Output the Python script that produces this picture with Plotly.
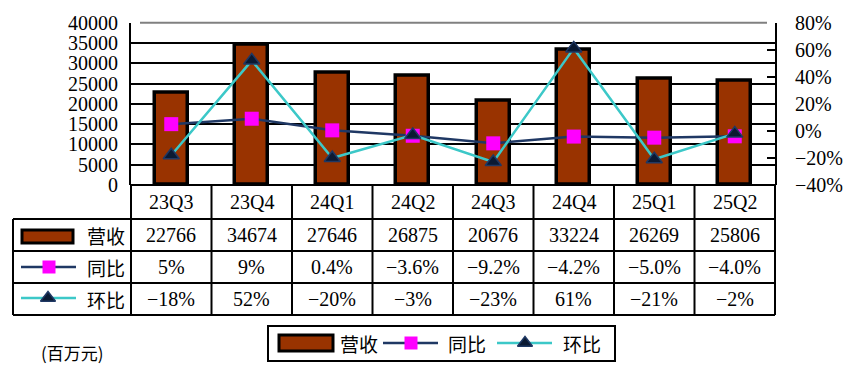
import plotly.graph_objects as go

categories = ["23Q3", "23Q4", "24Q1", "24Q2", "24Q3", "24Q4", "25Q1", "25Q2"]
revenue = [22766, 34674, 27646, 26875, 20676, 33224, 26269, 25806]
yoy = [0.05, 0.09, 0.004, -0.036, -0.092, -0.042, -0.050, -0.040]
qoq = [-0.18, 0.52, -0.20, -0.03, -0.23, 0.61, -0.21, -0.02]
yoy_labels = ["5%", "9%", "0.4%", "\u22123.6%", "\u22129.2%", "\u22124.2%", "\u22125.0%", "\u22124.0%"]
qoq_labels = ["\u221218%", "52%", "\u221220%", "\u22123%", "\u221223%", "61%", "\u221221%", "\u22122%"]
rev_labels = [str(v) for v in revenue]
series_names = ["营收", "同比", "环比"]
unit_label = "(百万元)"

W, H = 844, 382
BROWN = "#993300"
NAVY = "#1F3864"
TEAL = "#3CC8C8"
MAG = "#FF00FF"
TRI = "#0B1A33"
SERIF = "Liberation Serif, Noto Sans CJK SC"
CJK = "Noto Sans CJK SC"

def px(x):
    return x / W

def py(y):
    return 1 - y / H

L, R = 131, 775
TOP, BOT = 22.7, 185
COLW = (R - L) / 8

fig = go.Figure()
fig.add_trace(go.Bar(x=categories, y=revenue, width=0.41, marker=dict(color=BROWN, line=dict(color="black", width=3.5)),
                     showlegend=False, hoverinfo="skip"))
fig.add_trace(go.Scatter(x=categories, y=yoy, yaxis="y2", mode="lines+markers",
                         line=dict(color=NAVY, width=2.5),
                         marker=dict(symbol="square", size=14, color=MAG, line=dict(width=0)),
                         showlegend=False, cliponaxis=False))
fig.add_trace(go.Scatter(x=categories, y=qoq, yaxis="y2", mode="lines+markers",
                         line=dict(color=TEAL, width=2.5),
                         marker=dict(symbol="triangle-up", size=14, color=TRI, line=dict(color=NAVY, width=1.5)),
                         showlegend=False, cliponaxis=False))

def sample(xs, y, color, symbol, mx):
    fig.add_trace(go.Scatter(x=xs, y=[y, y], xaxis="x3", yaxis="y3", mode="lines",
                             line=dict(color=color, width=2.5), showlegend=False, hoverinfo="skip"))
    if symbol == "square":
        mk = dict(symbol="square", size=13, color=MAG)
    else:
        mk = dict(symbol="triangle-up", size=13, color=TRI, line=dict(color=NAVY, width=1.5))
    fig.add_trace(go.Scatter(x=[mx], y=[y], xaxis="x3", yaxis="y3", mode="markers",
                             marker=mk, showlegend=False, hoverinfo="skip"))

sample([21, 76], 267, NAVY, "square", 49)
sample([21, 76], 298, TEAL, "triangle", 48)
sample([383, 438], 343, NAVY, "square", 411)
sample([497, 552], 343, TEAL, "triangle", 525)

shapes = []
def hline(y, x0, x1, color="black", w=2):
    shapes.append(dict(type="line", xref="paper", yref="paper", x0=px(x0), x1=px(x1), y0=py(y), y1=py(y),
                       line=dict(color=color, width=w), layer="above"))
def vline(x, y0, y1, color="black", w=2):
    shapes.append(dict(type="line", xref="paper", yref="paper", x0=px(x), x1=px(x), y0=py(y0), y1=py(y1),
                       line=dict(color=color, width=w), layer="above"))

hline(TOP, L + 9, R - 8, color="#808080", w=2)
hline(BOT, L, R)
for yy in [219, 251, 283, 315]:
    hline(yy, 13, R)
vline(13, 219, 315)
for i in range(9):
    vline(L + COLW * i, BOT, 315)

shapes.append(dict(type="rect", xref="paper", yref="paper", x0=px(22), x1=px(73), y0=py(243), y1=py(230),
                   fillcolor=BROWN, line=dict(color="black", width=3)))
shapes.append(dict(type="rect", xref="paper", yref="paper", x0=px(268), x1=px(615), y0=py(361), y1=py(326),
                   fillcolor="rgba(0,0,0,0)", line=dict(color="black", width=2)))
shapes.append(dict(type="rect", xref="paper", yref="paper", x0=px(279), x1=px(333), y0=py(351), y1=py(335),
                   fillcolor=BROWN, line=dict(color="black", width=3)))

ann = []
rows = [(202, categories), (235, rev_labels), (267, yoy_labels), (299, qoq_labels)]
for yy, labels in rows:
    for c, t in zip(categories, labels):
        ann.append(dict(x=c, xref="x", y=py(yy), yref="paper", text=t, showarrow=False,
                        font=dict(family=SERIF, size=20, color="black"), xanchor="center", yanchor="middle"))
for yy, name in zip([235, 267, 299], series_names):
    ann.append(dict(x=px(106), xref="paper", y=py(yy), yref="paper", text=name, showarrow=False,
                    font=dict(family=CJK, size=19, color="black"), xanchor="center", yanchor="middle"))
for xx, name in zip([359, 467, 582], series_names):
    ann.append(dict(x=px(xx), xref="paper", y=py(343), yref="paper", text=name, showarrow=False,
                    font=dict(family=CJK, size=19, color="black"), xanchor="center", yanchor="middle"))
ann.append(dict(x=px(72), xref="paper", y=py(352), yref="paper", text=unit_label, showarrow=False,
                font=dict(family=CJK, size=17, color="black"), xanchor="center", yanchor="middle"))

fig.update_layout(
    width=W, height=H, margin=dict(l=0, r=0, t=0, b=0, pad=0, autoexpand=False),
    paper_bgcolor="white", plot_bgcolor="rgba(0,0,0,0)",
    bargap=0,
    xaxis=dict(domain=[px(L), px(R)], range=[-0.5, 7.5], type="category", showticklabels=False,
               showgrid=False, zeroline=False, showline=False, ticks="", automargin=False),
    yaxis=dict(domain=[py(BOT), py(TOP)], range=[0, 40000], dtick=5000, tick0=0, tickformat="d",
               showgrid=True, gridcolor="black", gridwidth=2, zeroline=False, automargin=False,
               showline=True, linecolor="black", linewidth=2, ticks="inside", ticklen=9, tickcolor="black",
               tickwidth=2, tickfont=dict(family="Liberation Serif", size=20, color="black"), ticklabelstandoff=7),
    yaxis2=dict(overlaying="y", side="right", anchor="x", range=[-0.4, 0.8], dtick=0.2, tick0=0,
                tickformat=".0%", showgrid=False, zeroline=False, showline=True, linecolor="black", linewidth=2,
                ticks="inside", ticklen=8, tickcolor="black", tickwidth=2, automargin=False,
                tickfont=dict(family="Liberation Serif", size=20, color="black"), ticklabelstandoff=14),
    xaxis3=dict(domain=[0, 1], range=[0, W], visible=False, anchor="y3", fixedrange=True, automargin=False),
    yaxis3=dict(domain=[0, 1], range=[H, 0], visible=False, anchor="x3", fixedrange=True, automargin=False),
    shapes=shapes, annotations=ann,
)
fig.write_html("out.html", config={"displayModeBar": False}, post_script="document.body.style.margin='0';")
